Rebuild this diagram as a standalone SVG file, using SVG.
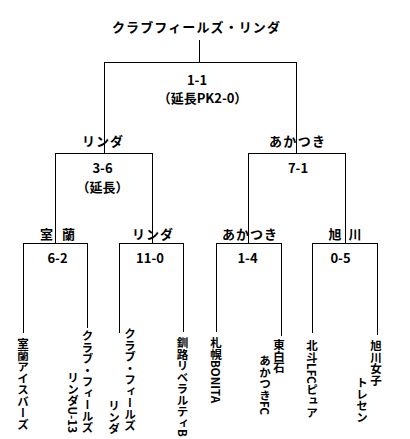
<svg xmlns="http://www.w3.org/2000/svg" width="410" height="439" viewBox="0 0 410 439">
<style>
.t{font-family:"Noto Sans CJK JP","Noto Sans",sans-serif;font-weight:bold;font-size:13px;fill:#000;text-anchor:middle}
.v{font-family:"Noto Sans CJK JP","Noto Sans",sans-serif;font-weight:bold;font-size:11.5px;fill:#000;writing-mode:vertical-rl}
.ln{stroke:#000;stroke-width:1;fill:none}
</style>
<rect width="410" height="439" fill="#fff"/>
<g id="connectors" class="ln">
<path d="M199.5 40V62.5M104.5 62.5H296.5M104.5 62V153.5M296.5 62V153.5"/>
<path d="M55.5 153.5H152.5M55.5 153V243.5M152.5 153V243.5"/>
<path d="M248.5 153.5H345.5M248.5 153V243.5M345.5 153V243.5"/>
<path d="M23.5 243.5H87.5M23.5 243V333M87.5 243V328"/>
<path d="M119.5 243.5H183.5M119.5 243V333M183.5 243V332"/>
<path d="M216.5 243.5H281.5M216.5 243V332M281.5 243V336"/>
<path d="M312.5 243.5H377.5M312.5 243V333M377.5 243V335"/>
</g>
<g id="champion"><text class="t" x="196" y="32" textLength="168" lengthAdjust="spacing">クラブフィールズ・リンダ</text></g>
<g id="final"><text class="t" x="197" y="85">1-1</text><text class="t" x="202.5" y="103">（延長PK2-0）</text></g>
<g id="sf1"><text class="t" x="102.5" y="146" textLength="41" lengthAdjust="spacing">リンダ</text><text class="t" x="102.5" y="173">3-6</text><text class="t" x="102.5" y="192">（延長）</text></g>
<g id="sf2"><text class="t" x="297" y="146" textLength="56" lengthAdjust="spacing">あかつき</text><text class="t" x="298" y="173">7-1</text></g>
<g id="qf1"><text class="t" x="57.5" y="239" textLength="35" lengthAdjust="spacing">室 蘭</text><text class="t" x="57.5" y="263">6-2</text></g>
<g id="qf2"><text class="t" x="152.5" y="239" textLength="41" lengthAdjust="spacing">リンダ</text><text class="t" x="150" y="263">11-0</text></g>
<g id="qf3"><text class="t" x="249.5" y="239" textLength="55" lengthAdjust="spacing">あかつき</text><text class="t" x="247.5" y="263">1-4</text></g>
<g id="qf4"><text class="t" x="345" y="239" textLength="33" lengthAdjust="spacing">旭 川</text><text class="t" x="340.5" y="263">0-5</text></g>
<g id="team1"><text class="v" x="23" y="338">室蘭アイスバーズ</text></g>
<g id="team2"><text class="v" x="87.5" y="330">クラブ・フィールズ</text><text class="v" x="73" y="372">リンダU-13</text></g>
<g id="team3"><text class="v" x="130" y="328">クラブ・フィールズ</text><text class="v" x="114" y="400">リンダ</text></g>
<g id="team4"><text class="v" x="182.5" y="337">釧路リベラルティB</text></g>
<g id="team5"><text class="v" x="216" y="337">札幌BONITA</text></g>
<g id="team6"><text class="v" x="279" y="339">東白石</text><text class="v" x="265" y="355">あかつきFC</text></g>
<g id="team7"><text class="v" x="312" y="340">北斗LFCピュア</text></g>
<g id="team8"><text class="v" x="376" y="340">旭川女子</text><text class="v" x="362" y="377">トレセン</text></g>
</svg>
